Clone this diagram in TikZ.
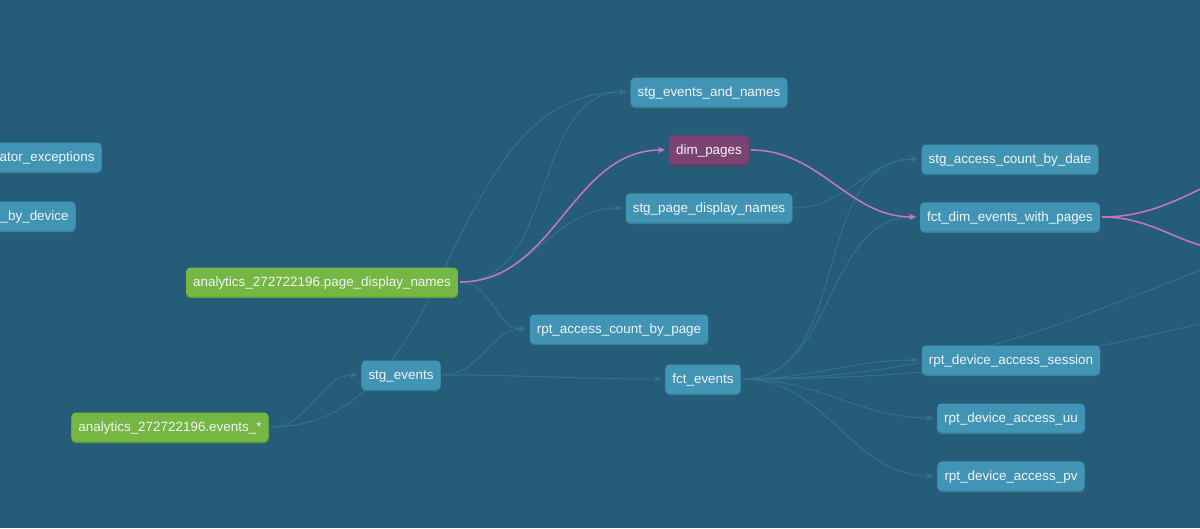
\documentclass[tikz,border=0pt]{standalone}
\usepackage{fontspec}
\setmainfont{Liberation Sans}
\usetikzlibrary{positioning, arrows.meta}

\definecolor{bgblue}{RGB}{37,93,120}
\definecolor{nodeblue}{RGB}{66,148,181}
\definecolor{nodeshade}{RGB}{55,128,158}
\definecolor{srcgreen}{RGB}{118,183,67}
\definecolor{srcshade}{RGB}{98,158,55}
\definecolor{dimpurple}{RGB}{124,66,114}
\definecolor{dimshade}{RGB}{104,54,96}
\definecolor{edgeblue}{RGB}{52,113,142}
\definecolor{pinkedge}{RGB}{196,114,204}
\definecolor{labeltext}{RGB}{240,245,248}

\pgfdeclarelayer{bg}
\pgfdeclarelayer{links}
\pgfsetlayers{bg,links,main}

\tikzset{
  box/.style 2 args={fill=#1, preaction={fill=#2, transform canvas={yshift=-0.9pt}},
    text=labeltext, rounded corners=2.5pt, minimum height=0.58cm,
    inner xsep=4pt, inner ysep=0pt, text height=6.5pt, text depth=1.5pt,
    font=\fontsize{7.65}{9}\selectfont},
  model/.style={box={nodeblue}{nodeshade}},
  source/.style={box={srcgreen}{srcshade}},
  picked/.style={box={dimpurple}{dimshade}},
  link/.style={draw=edgeblue, line width=0.55pt, -{Stealth[length=4.2pt,width=3.6pt]},
    shorten >=2pt, shorten <=1pt, out=0, in=180},
  hot/.style={link, draw=pinkedge, line width=0.9pt}
}

\begin{document}
\begin{tikzpicture}[x=0.02cm, y=-0.02cm, node distance=1.16cm, on grid]
  \useasboundingbox (0,0) rectangle (1200,528);
  \begin{pgfonlayer}{bg}
    \fill[bgblue] (0,0) rectangle (1200,528);
  \end{pgfonlayer}

  % sources
  \node[source] (pdn) at (322,282) {analytics\_272722196.page\_display\_names};
  \node[source] (evs) at (170,427) {analytics\_272722196.events\_*};

  % models cut by the left border
  \node[model, anchor=east, text width=3cm, align=right] (exc) at (102,157) {ator\_exceptions};
  \node[model, anchor=east, text width=3cm, align=right] (dev) at (76,216) {\_by\_device};

  \node[model] (stgev) at (401,375) {stg\_events};
  \node[model] (stgen) at (709,92) {stg\_events\_and\_names};
  \node[picked] (dim) [below=of stgen] {dim\_pages};
  \node[model] (stgpdn) [below=of dim] {stg\_page\_display\_names};
  \node[model] (rptpage) at (619,329) {rpt\_access\_count\_by\_page};
  \node[model] (fct) at (703,379) {fct\_events};

  \node[model] (stgacc) at (1010,159) {stg\_access\_count\_by\_date};
  \node[model] (fctdim) [below=of stgacc] {fct\_dim\_events\_with\_pages};
  \node[model] (rptsess) at (1011,360) {rpt\_device\_access\_session};
  \node[model] (rptuu) [below=of rptsess] {rpt\_device\_access\_uu};
  \node[model] (rptpv) [below=of rptuu] {rpt\_device\_access\_pv};

  % children beyond the right border
  \coordinate (far1) at (1260,247);
  \coordinate (far2) at (1260,309);
  \coordinate (far3) at (1300,162);
  \coordinate (far4) at (1240,250);

  \begin{pgfonlayer}{links}
    \path (evs) edge[link] (stgev)
          (evs) edge[link] (stgen)
          (pdn) edge[link] (stgen)
          (pdn) edge[link] (stgpdn)
          (pdn) edge[link] (rptpage)
          (stgev) edge[link] (rptpage)
          (stgev) edge[link] (fct)
          (stgpdn) edge[link] (stgacc)
          (fct) edge[link] (stgacc)
          (fct) edge[link] (fctdim)
          (fct) edge[link] (rptsess)
          (fct) edge[link] (rptuu)
          (fct) edge[link] (rptpv)
          (fct) edge[link, in=201] (far1)
          (fct) edge[link, in=194] (far2);
    \path (pdn) edge[hot] (dim)
          (dim) edge[hot] (fctdim)
          (fctdim) edge[hot] (far3)
          (fctdim) edge[hot] (far4);
  \end{pgfonlayer}
\end{tikzpicture}
\end{document}
